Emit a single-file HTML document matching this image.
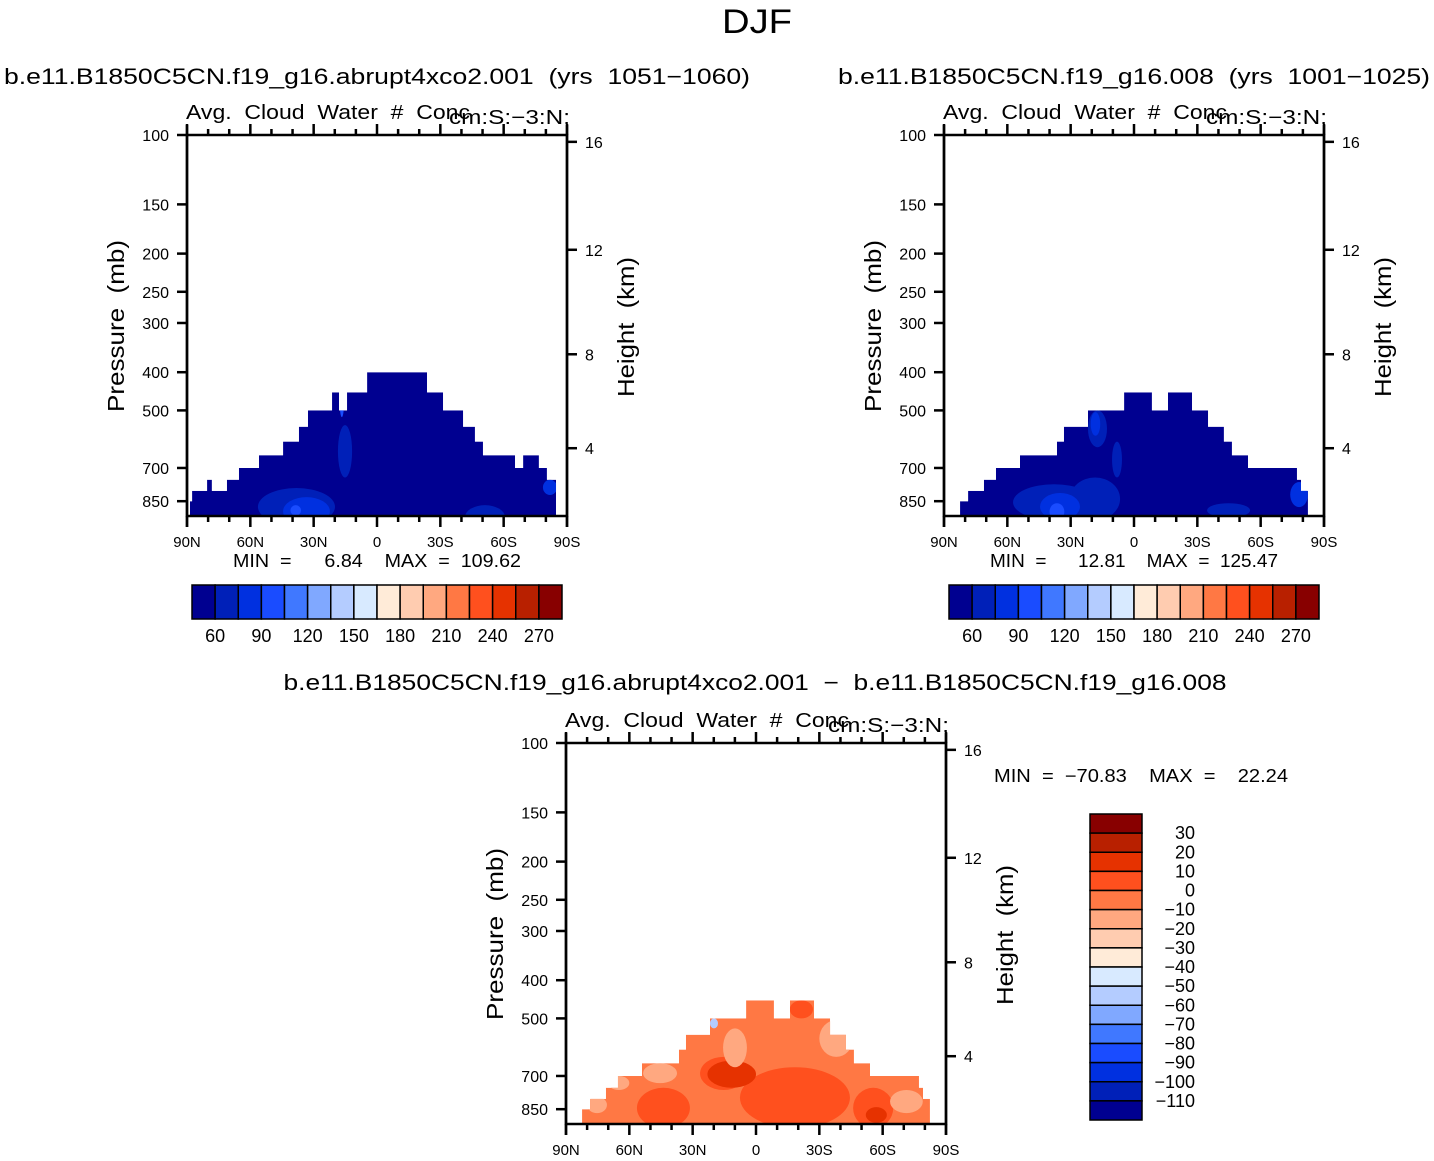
<!DOCTYPE html>
<html><head><meta charset="utf-8"><style>
html,body{margin:0;padding:0;background:#fff;}
svg{display:block;font-family:"Liberation Sans",sans-serif;}
text{white-space:pre;}
</style></head><body>
<svg id="fig" width="1434" height="1161" viewBox="0 0 1434 1161" xmlns="http://www.w3.org/2000/svg">
<text x="757" y="33" font-size="34" text-anchor="middle" textLength="70" lengthAdjust="spacingAndGlyphs">DJF</text>
</svg>
<script>
// ---------- data ----------
const colors = ["#000090","#0020B8","#0030E0","#1A4CFF","#4078FF","#80A8FF","#B4CCFF","#D8EAFF","#FFEBD8","#FFCCB0","#FFA880","#FF7844","#FF501E","#E63200","#B82000","#880000"];
const cbLabelsTop = ["60","90","120","150","180","210","240","270"];
const cbLabelsDiff = ["30","20","10","0","\u221210","\u221220","\u221230","\u221240","\u221250","\u221260","\u221270","\u221280","\u221290","\u2212100","\u2212110"];
const pressTicks = [100,150,200,250,300,400,500,700,850];
const heightTicks = [16,12,8,4];
const latTicks = [90,60,30,0,-30,-60,-90];
const latTickLabels = ["90N","60N","30N","0","30S","60S","90S"];
const maskLatA = [88.6,87.6,80.5,78.2,71.1,65.4,55.9,44.5,37.0,32.7,21.3,18.0,14.2,4.7,-23.7,-31.3,-40.8,-46.4,-50.2,-65.4,-69.2,-76.7,-80.5,-84.8];
const maskTopA = [850,800,750,800,750,700,650,600,550,500,450,500,450,400,450,500,550,600,650,700,650,700,750];
const maskLatB = [82.4,80.5,78.6,71.1,65.4,54.0,36.5,33.2,21.8,4.7,-8.5,-16.1,-27.5,-35.1,-42.6,-46.4,-54.0,-77.2,-79.1,-82.4];
const maskTopB = [850,850,800,750,700,650,600,550,500,450,500,450,500,550,600,650,700,750,800];
const blobsA = [[56.4,19.9,787,980,1],[44.5,22.3,830,980,2],[41,36,870,925,3],[18.5,11.8,545,740,1],[-41.7,-60.6,870,1000,1],[-78.6,-85.3,750,820,2],[17.6,15.7,450,520,3]];
const blobsB = [[57.3,18.5,770,950,1],[30.3,6.6,740,950,1],[44.5,25.6,810,950,2],[40,33,860,950,3],[21.8,12.8,500,620,1],[20.5,16,505,580,2],[10.4,5.7,600,740,1],[-34.6,-55,860,935,1],[-74,-82.4,760,880,2]];
const blobsD = [[56.4,31.3,750,950,12],[26.5,4.3,626,760,12],[7.6,-44.5,665,950,12],[-46,-65,750,950,12],[23,0,640,750,13],[-52,-62,840,920,13],[-16,-27,450,500,12],[80,70.6,790,870,10],[-63.5,-79,760,870,10],[-30,-46,505,626,10],[15.6,4.3,530,665,10],[53.5,37.4,650,730,10],[21.8,18,500,530,6],[70,60,700,760,10]];
const panelTitles = ["b.e11.B1850C5CN.f19_g16.abrupt4xco2.001  (yrs  1051\u22121060)","b.e11.B1850C5CN.f19_g16.008  (yrs  1001\u22121025)"];
const minMax = [["6.84","109.62"],["12.81","125.47"],["\u221270.83","22.24"]];

// ---------- drawing ----------
const NS="http://www.w3.org/2000/svg";
const svg=document.getElementById('fig');
function mk(tag,attrs,parent){const e=document.createElementNS(NS,tag);for(const k in attrs)e.setAttribute(k,attrs[k]);(parent||svg).appendChild(e);return e;}
function hToP(km){const z=km*1000;return z<11000?1013.25*Math.pow(1-2.25577e-5*z,5.25588):226.32*Math.exp(-(z-11000)/6341.6);}

function panel(id,x0,y0,maskLat,maskTop,baseIdx,blobs,mm,sideMinMax){
  const W=380,H=381,dec=394;
  const X=lat=>x0+(90-lat)/180*W;
  const Y=p=>y0+dec*Math.log10(p/100);
  const g=mk('g',{});
  
  
  let d=`M${X(maskLat[0])},${y0+H}`;
  for(let i=0;i<maskTop.length;i++){d+=` L${X(maskLat[i])},${Y(maskTop[i])} L${X(maskLat[i+1])},${Y(maskTop[i])}`;}
  d+=` L${X(maskLat[maskLat.length-1])},${y0+H} Z`;
  const cp=mk('clipPath',{id:id+'-clip'},g);
  mk('path',{d:d},cp);
  const fg=mk('g',{'clip-path':`url(#${id}-clip)`},g);
  const base=mk('path',{d:d,fill:colors[baseIdx]},fg);
  
  
  blobs.forEach(b=>{
    const xa=X(b[0]),xb=X(b[1]),ya=Y(b[2]),yb=Y(b[3]);
    const e=mk('ellipse',{cx:(xa+xb)/2,cy:(ya+yb)/2,rx:Math.abs(xb-xa)/2,ry:Math.abs(yb-ya)/2,fill:colors[b[4]]},fg);
    
    
  });
  const ax=mk('g',{stroke:'#000','stroke-width':2.5,fill:'none'},g);
  mk('rect',{x:x0,y:y0,width:W,height:H},ax);
  for(let lat=90;lat>=-90;lat-=10){
    const major=lat%30===0;const x=X(lat);
    mk('line',{x1:x,y1:y0+H,x2:x,y2:y0+H+(major?11:6)},ax);
    mk('line',{x1:x,y1:y0,x2:x,y2:y0-(major?11:6)},ax);
  }
  latTicks.forEach((lat,i)=>{
    const t=mk('text',{x:X(lat),y:y0+H+31,'font-size':15,'text-anchor':'middle'},g);
    t.textContent=latTickLabels[i];
    
    
  });
  pressTicks.forEach(p=>{
    const y=Y(p);
    mk('line',{x1:x0-10,y1:y,x2:x0,y2:y},ax);
    const t=mk('text',{x:x0-18,y:y+6,'font-size':16,'text-anchor':'end'},g);
    t.textContent=p;
    
    
  });
  heightTicks.forEach(h=>{
    const y=Y(hToP(h))+2;
    mk('line',{x1:x0+W,y1:y,x2:x0+W+10,y2:y},ax);
    const t=mk('text',{x:x0+W+18,y:y+6,'font-size':16},g);
    t.textContent=h;
    
    
  });
  mk('line',{x1:x0,y1:y0-10,x2:x0,y2:y0+H+11},ax);
  mk('line',{x1:x0+W,y1:y0-10,x2:x0+W,y2:y0+H+11},ax);
  let t=mk('text',{x:x0-1,y:y0-16,'font-size':20,textLength:284,lengthAdjust:'spacingAndGlyphs'},g);
  t.textContent='Avg.  Cloud  Water  #  Conc';
  
  
  t=mk('text',{x:x0+262,y:y0-11,'font-size':20,textLength:121,lengthAdjust:'spacingAndGlyphs'},g);
  t.textContent='cm:S:\u22123:N:';
  
  
  t=mk('text',{x:0,y:0,'font-size':23,'text-anchor':'middle',textLength:172,lengthAdjust:'spacingAndGlyphs',transform:`translate(${x0-63},${y0+191}) rotate(-90)`},g);
  t.textContent='Pressure  (mb)';
  
  
  t=mk('text',{x:0,y:0,'font-size':23,'text-anchor':'middle',textLength:140,lengthAdjust:'spacingAndGlyphs',transform:`translate(${x0+W+67},${y0+192}) rotate(-90)`},g);
  t.textContent='Height  (km)';
  
  
  if(sideMinMax){
    t=mk('text',{x:x0+W+48,y:y0+39,'font-size':18,textLength:294,lengthAdjust:'spacingAndGlyphs'},g);
    t.textContent=`MIN  =  ${mm[0]}    MAX  =    ${mm[1]}`;
  } else {
    t=mk('text',{x:x0+46,y:y0+H+51,'font-size':18,textLength:288,lengthAdjust:'spacingAndGlyphs'},g);
    t.textContent=`MIN  =      ${mm[0]}    MAX  =  ${mm[1]}`;
  }
  
  
}

function hColorbar(id,x0,y0){
  const g=mk('g',{});
  
  
  const bw=370/16;
  colors.forEach((c,i)=>{
    const r=mk('rect',{x:x0+i*bw,y:y0,width:bw,height:34,fill:c,stroke:'#000','stroke-width':1.5},g);
    
    
  });
  cbLabelsTop.forEach((l,i)=>{
    const t=mk('text',{x:x0+bw*(1+2*i),y:y0+57,'font-size':18,'text-anchor':'middle'},g);
    t.textContent=l;
    
    
  });
}
function vColorbar(id,x0,y0){
  const g=mk('g',{});
  
  
  const bh=306/16;
  colors.slice().reverse().forEach((c,i)=>{
    const r=mk('rect',{x:x0,y:y0+i*bh,width:52,height:bh,fill:c,stroke:'#000','stroke-width':1.5},g);
    
    
  });
  cbLabelsDiff.forEach((l,i)=>{
    const t=mk('text',{x:x0+105,y:y0+bh*(i+1)+6,'font-size':18,'text-anchor':'end'},g);
    t.textContent=l;
    
    
  });
}

function title(txt,x,y,len,name){
  const t=mk('text',{x:x,y:y,'font-size':22,'text-anchor':'middle',textLength:len,lengthAdjust:'spacingAndGlyphs'});
  t.textContent=txt;
  
  
}
title(panelTitles[0],377,84,746,'left-panel-title');
title(panelTitles[1],1134,84,592,'right-panel-title');
title('b.e11.B1850C5CN.f19_g16.abrupt4xco2.001  \u2212  b.e11.B1850C5CN.f19_g16.008',755,690,943,'diff-panel-title');

panel('abrupt4xco2',187,135,maskLatA,maskTopA,0,blobsA,minMax[0],false);
panel('control',944,135,maskLatB,maskTopB,0,blobsB,minMax[1],false);
panel('difference',566,743,maskLatB,maskTopB,11,blobsD,minMax[2],true);
hColorbar('colorbar-left',192,585);
hColorbar('colorbar-right',949,585);
vColorbar('colorbar-diff',1090,814);
</script>
</body></html>
